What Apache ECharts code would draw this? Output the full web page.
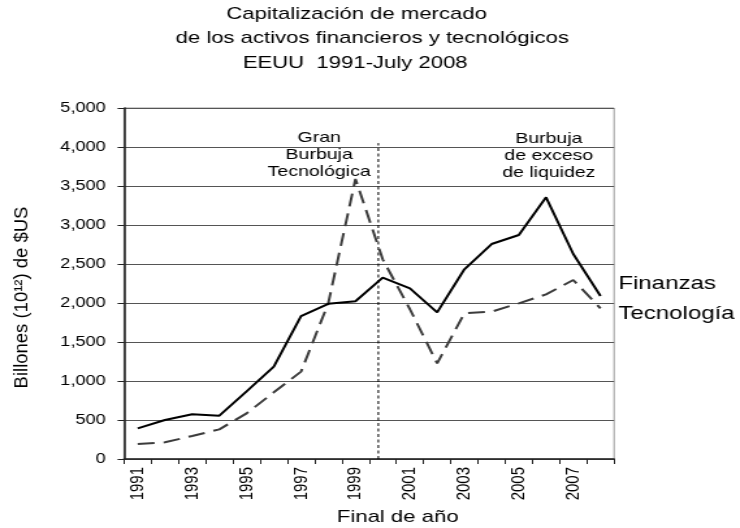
<!DOCTYPE html>
<html><head><meta charset="utf-8">
<script src="https://cdn.jsdelivr.net/npm/echarts@6/dist/echarts.min.js"></script>
<style>
html,body{margin:0;padding:0;background:#fff;overflow:hidden}
#wrap{width:740px;height:528px;overflow:hidden}
#chart{width:569px;height:528px;transform:scaleX(1.3005);transform-origin:0 0}
</style>
</head><body><div id="wrap"><div id="chart"></div></div>
<script>
const years = ['1991','1992','1993','1994','1995','1996','1997','1998','1999','2000','2001','2002','2003','2004','2005','2006','2007','2008'];
const finanzas = [393, 500, 573, 556, 868, 1184, 1833, 1990, 2022, 2325, 2188, 1880, 2432, 2756, 2872, 3355, 2628, 2090];
const tecnologia = [192, 214, 295, 380, 585, 855, 1120, 1996, 3590, 2560, 1920, 1227, 1868, 1889, 1996, 2110, 2295, 1932];
const yTickLabels = ['0','500','1,000','1,500','2,000','2,500','3,000','3,500','4,000','5,000'];
const dividerYear = 1999.84;
const dividerTop = 4050;
const titleLines = ['Capitalización de mercado', 'de los activos financieros y tecnológicos', 'EEUU  1991-July 2008'];
const seriesNames = ['Finanzas', 'Tecnología'];
const note1 = ['Gran', 'Burbuja', 'Tecnológica'];
const note2 = ['Burbuja', 'de exceso', 'de liquidez'];
const xName = 'Final de año';
const yName = 'Billones (10¹²) de $US';

const FF = '"Liberation Sans", Arial, Helvetica, sans-serif';
function txt(text, x, y, size, align, extra) {
  return Object.assign({
    type: 'text', x: x, y: y, silent: true,
    style: {
      text: text, fontSize: size, fontFamily: FF, fill: '#000',
      align: align, textAlign: align, verticalAlign: 'middle', textVerticalAlign: 'middle',
      lineHeight: extra && extra.lh ? extra.lh : undefined
    }
  }, extra && extra.el ? extra.el : {});
}

const chart = echarts.init(document.getElementById('chart'), null, {renderer: 'canvas'});
chart.setOption({
  animation: false,
  backgroundColor: '#fff',
  grid: {left: 95.4, right: 96.8, top: 108, bottom: 69, show: true, borderColor: '#999', borderWidth: 1},
  xAxis: [{
    type: 'category', data: years, boundaryGap: true,
    axisLine: {show: true, lineStyle: {color: '#222', width: 1.5}},
    axisTick: {show: true, interval: 0, length: 5, alignWithLabel: false, lineStyle: {color: '#222', width: 1}},
    axisLabel: {interval: 1, rotate: 90, fontSize: 15, margin: 8, color: '#000', fontFamily: FF},
    splitLine: {show: false}
  }, {
    type: 'value', min: 1990.5, max: 2008.5, show: false
  }],
  yAxis: {
    type: 'value', min: 0, max: 4500, interval: 500,
    axisLine: {show: true, lineStyle: {color: '#222', width: 1.6}},
    axisTick: {show: true, length: 5, lineStyle: {color: '#222', width: 1}},
    axisLabel: {margin: 14, fontSize: 14, color: '#000', fontFamily: FF,
      formatter: function (v, i) { return yTickLabels[Math.round(v / 500)]; }},
    splitLine: {show: true, lineStyle: {color: '#555', width: 1}}
  },
  series: [{
    name: seriesNames[0], type: 'line', data: finanzas, symbol: 'none', z: 4,
    lineStyle: {color: '#000', width: 2}
  }, {
    name: seriesNames[1], type: 'line', data: tecnologia, symbol: 'none', z: 3,
    lineStyle: {color: '#3c3c3c', width: 2, type: [13, 7]}
  }, {
    name: 'divider', type: 'line', xAxisIndex: 1, symbol: 'none', silent: true, z: 2,
    data: [[dividerYear, 0], [dividerYear, dividerTop]],
    lineStyle: {color: '#000', width: 1, type: [3, 2.5]}
  }],
  graphic: [
    txt(titleLines[0], 274.2, 14.7, 17, 'center'),
    txt(titleLines[1], 286.2, 38.3, 17, 'center'),
    txt(titleLines[2], 273.1, 63, 17, 'center'),
    txt(note1.join('\n'), 245.4, 155, 15, 'center', {lh: 17.3}),
    txt(note2.join('\n'), 422, 155.8, 15, 'center', {lh: 17.3}),
    txt(seriesNames[0], 475.4, 284, 18.5, 'left'),
    txt(seriesNames[1], 475.4, 314, 18.5, 'left'),
    txt(xName, 305.8, 517, 17, 'center'),
    txt(yName, 17.5, 297.5, 14, 'center', {el: {rotation: Math.PI / 2, scaleX: 1.32}})
  ]
});
</script>
</body></html>
